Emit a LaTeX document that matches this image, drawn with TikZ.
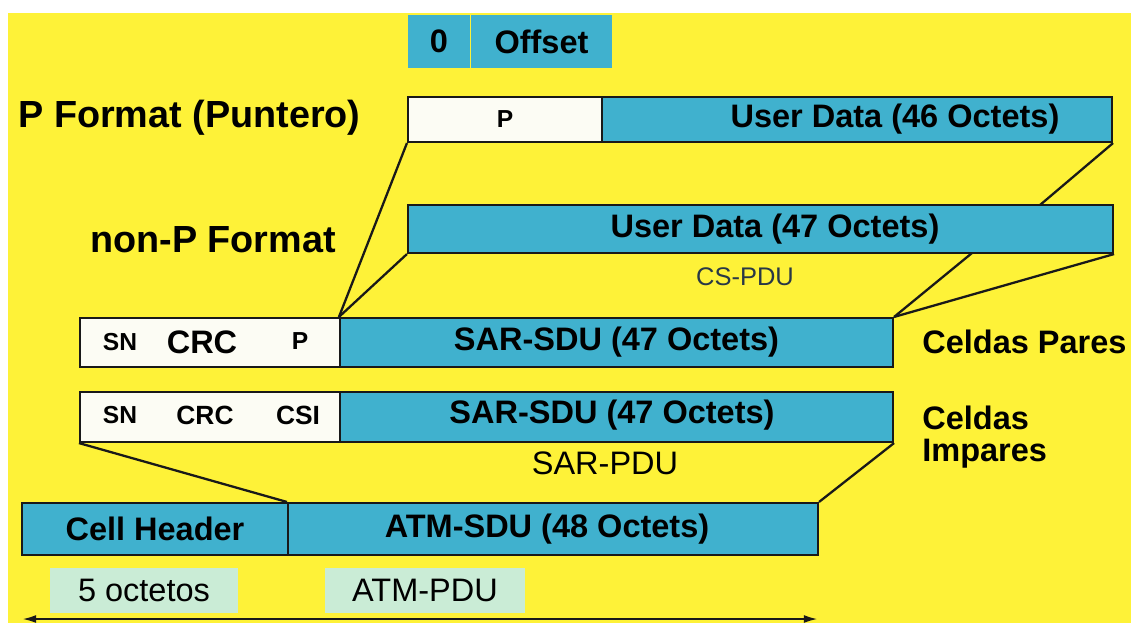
\documentclass[tikz,border=0pt]{standalone}
\usepackage{fontspec}
\setmainfont{Liberation Sans}
\usetikzlibrary{fit,arrows.meta}
\definecolor{bgyellow}{RGB}{254,242,56}
\definecolor{cellcyan}{RGB}{64,177,206}
\definecolor{hdrwhite}{RGB}{252,252,244}
\definecolor{mint}{RGB}{202,236,214}
\definecolor{edge}{RGB}{25,25,25}
\definecolor{pduink}{RGB}{40,55,70}
\tikzset{
  field/.style={draw=edge, line width=1.2pt, inner sep=0pt, fill=cellcyan},
  hdrfield/.style={draw=edge, line width=1.2pt, inner sep=0pt, fill=hdrwhite},
  tag/.style={inner sep=0pt, fill=mint},
  bigtxt/.style={font=\fontsize{18.5}{20}\selectfont\bfseries},
  smalltxt/.style={font=\fontsize{14}{16}\selectfont\bfseries},
  titletxt/.style={font=\fontsize{21.5}{24}\selectfont\bfseries, inner sep=0pt},
  plaintxt/.style={font=\fontsize{18.5}{20}\selectfont},
  link/.style={draw=edge, line width=1.3pt},
}
\begin{document}
\begin{tikzpicture}[x=0.02cm, y=-0.02cm]
\useasboundingbox (0,0) rectangle (1136,623);
% page background
\fill[white] (0,0) rectangle (1136,623);
\fill[bgyellow] (8,13) rectangle (1131,623);

% offset field
\node[fill=cellcyan, inner sep=0pt, fit={(408,15) (470,68)}, label={[bigtxt]center:0}] (zero) {};
\node[fill=cellcyan, inner sep=0pt, fit={(471,15) (612,68)}, label={[bigtxt]center:Offset}] (offset) {};

% P format
\node[titletxt, anchor=west] (ptitle) at (18,118) {P Format (Puntero)};
\node[hdrfield, fit={(408,97) (602,142)}, label={[smalltxt]center:P}] (pbox) {};
\node[field, fit={(602,97) (1112,142)}] (ud46) {};
\node[bigtxt] (ud46txt) at (895,119) {User Data (46 Octets)};

% non-P format
\node[titletxt, anchor=west] (nptitle) at (90,240) {non-P Format};
\node[field, fit={(408,205) (1113,253)}] (ud47) {};
\node[bigtxt] (ud47txt) at (775,229) {User Data (47 Octets)};
\node[font=\fontsize{14.5}{16}\selectfont, text=pduink] (cspdu) at (745,277) {CS-PDU};

% even cells
\node[hdrfield, fit={(80,318) (340,367)}] (evenhdr) {};
\node[smalltxt] (evensn) at (120,342) {SN};
\node[font=\fontsize{18.5}{20}\selectfont\bfseries] (evencrc) at (202,342) {CRC};
\node[smalltxt] (evenp) at (300,341) {P};
\node[field, fit={(340,318) (893,367)}, label={[bigtxt]center:SAR-SDU (47 Octets)}] (evensdu) {};
\node[bigtxt, anchor=west, inner sep=0pt] (even) at (922,342) {Celdas Pares};

% odd cells
\node[hdrfield, fit={(80,392) (340,442)}] (oddhdr) {};
\node[smalltxt] (oddsn) at (120,415) {SN};
\node[font=\fontsize{15}{17}\selectfont\bfseries] (oddcrc) at (205,415) {CRC};
\node[font=\fontsize{15}{17}\selectfont\bfseries] (oddcsi) at (298,415) {CSI};
\node[field, fit={(340,392) (893,442)}] (oddsdu) {};
\node[bigtxt] (oddsdutxt) at (612,415) {SAR-SDU (47 Octets)};
\node[bigtxt, anchor=west, align=left, inner sep=0pt] (odd) at (922,437) {Celdas\\[-2pt]Impares};
\node[plaintxt] (sarpdu) at (605,463) {SAR-PDU};

% ATM cell
\node[field, fit={(22,503) (288,555)}, label={[bigtxt]center:Cell Header}] (cellhdr) {};
\node[field, fit={(288,503) (818,555)}] (atmsdu) {};
\node[bigtxt] (atmsdutxt) at (547,529) {ATM-SDU (48 Octets)};
\node[tag, fit={(50,568) (238,613)}, label={[plaintxt]center:5 octetos}] (fiveoct) {};
\node[tag, fit={(325,568) (525,613)}, label={[plaintxt]center:ATM-PDU}] (atmpdu) {};

% mapping lines
\coordinate (j46) at (1040,205);
\coordinate (j47) at (972,253);
\draw[link] (pbox.south west) -- (evensdu.north west);
\draw[link] (ud47.south west) -- (evensdu.north west);
\draw[link] (ud46.south east) -- (j46);
\draw[link] (j47) -- (evensdu.north east);
\draw[link] (ud47.south east) -- (evensdu.north east);
\draw[link] (oddhdr.south west) -- (atmsdu.north west);
\draw[link] (oddsdu.south east) -- (atmsdu.north east);

% cell length
\coordinate (lenl) at (22,619);
\coordinate (lenr) at (818,619);
\draw[link, {Latex[length=8pt,width=4.5pt]}-{Latex[length=8pt,width=4.5pt]}] (lenl) -- (lenr);
\end{tikzpicture}
\end{document}
